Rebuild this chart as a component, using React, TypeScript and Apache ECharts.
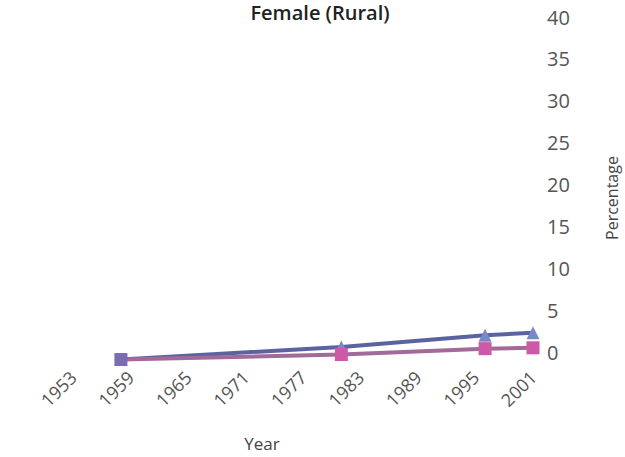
import React, { useEffect, useRef } from "react";
import * as echarts from "echarts";

const BASE_YEAR = 1953;
const xTickYears = [1953, 1959, 1965, 1971, 1977, 1983, 1989, 1995, 2001];
const yTicks = [0, 5, 10, 15, 20, 25, 30, 35, 40];

const years = [1958, 1981, 1996, 2001];
const seriesA = [-0.9, 0.6, 2.0, 2.3]; // triangles (blue)
const seriesB = [-0.9, -0.3, 0.4, 0.5]; // squares (pink)

const FONT = "'Open Sans', 'Noto Sans', sans-serif";

export default function App() {
  const ref = useRef<HTMLDivElement>(null);
  useEffect(() => {
    if (!ref.current) return;
    const chart = echarts.init(ref.current, null, { renderer: "svg" });
    const toXY = (vals: number[]) => vals.map((v, i) => [years[i] - BASE_YEAR, v]);
    chart.setOption({
      animation: false,
      backgroundColor: "#ffffff",
      title: {
        text: "Female (Rural)",
        left: 315,
        textAlign: "center",
        top: -3,
        textStyle: { fontFamily: FONT, fontSize: 20, fontWeight: 600, color: "#222" },
      },
      grid: { left: 73, right: 92, top: 17, bottom: 105 },
      xAxis: {
        type: "value",
        min: 0,
        max: xTickYears[xTickYears.length - 1] - BASE_YEAR,
        interval: 6,
        axisLine: { show: false },
        axisTick: { show: false },
        splitLine: { show: false },
        axisLabel: {
          rotate: 45,
          margin: 22,
          fontFamily: FONT,
          fontSize: 18,
          color: "#555",
          formatter: (v: number) => String(v + BASE_YEAR),
        },
      },
      yAxis: {
        type: "value",
        position: "right",
        min: yTicks[0],
        max: yTicks[yTicks.length - 1],
        interval: 5,
        axisLine: { show: false },
        axisTick: { show: false },
        splitLine: { show: false },
        axisLabel: { margin: 14, fontFamily: FONT, fontSize: 20, color: "#555" },
      },
      graphic: [
        {
          type: "text",
          x: 262,
          y: 443,
          style: { text: "Year", font: `17px ${FONT}`, fill: "#444", align: "center", verticalAlign: "middle" },
        },
        {
          type: "text",
          x: 612,
          y: 198,
          rotation: Math.PI / 2,
          style: { text: "Percentage", font: `16px ${FONT}`, fill: "#444", align: "center", verticalAlign: "middle" },
        },
      ],
      series: [
        {
          type: "line",
          data: toXY(seriesA),
          clip: false,
          symbol: "triangle",
          symbolSize: 13,
          lineStyle: { color: "#5a63a0", width: 4 },
          itemStyle: { color: "#7b88c4" },
          z: 2,
        },
        {
          type: "line",
          data: toXY(seriesB).map((p, i) =>
            i === 0 ? { value: p, itemStyle: { color: "#7b6cb0" } } : { value: p }
          ),
          clip: false,
          symbol: "rect",
          symbolSize: 13,
          lineStyle: { color: "#a26a98", width: 4 },
          itemStyle: { color: "#cc5aa6" },
          z: 3,
        },
      ],
    });
    return () => chart.dispose();
  }, []);
  return <div ref={ref} style={{ width: 625, height: 457, position: "absolute", left: 0, top: 0 }} />;
}
